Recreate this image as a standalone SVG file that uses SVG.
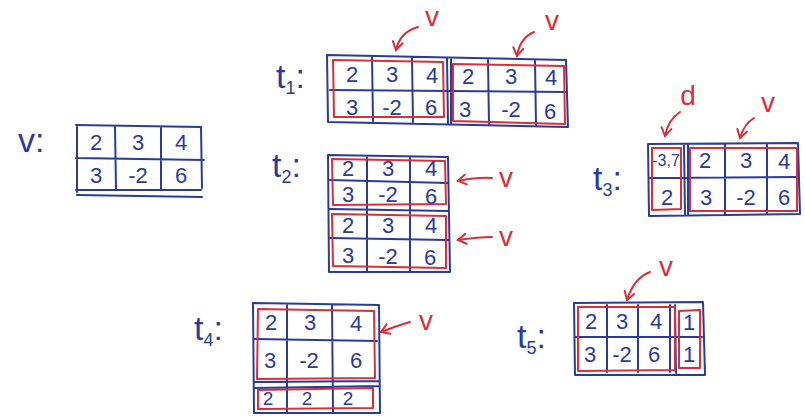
<svg xmlns="http://www.w3.org/2000/svg" width="805" height="416" viewBox="0 0 805 416">
<defs>
<style>
.b{fill:none;stroke:#2b3b9c;stroke-width:2;stroke-linecap:round;stroke-linejoin:round}
.r{fill:none;stroke:#d8303a;stroke-width:2;stroke-linecap:round;stroke-linejoin:round}
.n{font-family:"Liberation Sans",Arial,sans-serif;font-size:22px;fill:#2b3b9c;text-anchor:middle;dominant-baseline:central}
.s{font-size:16px}
.m{font-size:19px}
.lab{font-family:"Liberation Sans",Arial,sans-serif;font-size:34px;fill:#2b3b9c}
.sub{font-size:18px}
.rl{font-family:"Liberation Sans",Arial,sans-serif;font-size:28px;fill:#d8303a;text-anchor:middle}
</style>
<marker id="ah" markerWidth="12" markerHeight="12" refX="9" refY="6" orient="auto" markerUnits="userSpaceOnUse">
<path d="M1,1 L9,6 L1,11" fill="none" stroke="#d8303a" stroke-width="2" stroke-linecap="round"/>
</marker>
</defs>
<rect width="805" height="416" fill="#fff"/>

<g id="v">
<text class="lab" x="18" y="152">v:</text>
<path class="b" d="M76,125 L201,127 M77,125 L77,192 M201,127 L202,188 M76,158 L204,160 M76,190 L201,190 M77,195 L202,197 M115,126 L116,189 M161,127 L161,190"/>
<text class="n" x="96" y="142">2</text><text class="n" x="138" y="142">3</text><text class="n" x="181" y="142">4</text>
<text class="n" x="96" y="175">3</text><text class="n" x="138" y="175">-2</text><text class="n" x="181" y="175">6</text>
</g>

<g id="t1">
<text class="lab" x="276" y="88">t<tspan class="sub" dy="6">1</tspan><tspan dy="-6">:</tspan></text>
<path class="b" d="M327,55 L566,60 L568,127 L328,122 Z M330,90 L566,92 M372,57 L373,121 M412,58 L413,122 M447,58 L448,124 M451,58 L451,124 M488,59 L489,125 M535,60 L536,126"/>
<path class="r" d="M333,60 L443,62 L444,117 L334,117 Z M453,64 L564,66 L565,124 L453,121 Z"/>
<text class="n" x="352" y="74">2</text><text class="n" x="392" y="74">3</text><text class="n" x="432" y="75">4</text>
<text class="n" x="352" y="107">3</text><text class="n" x="392" y="107">-2</text><text class="n" x="431" y="107">6</text>
<text class="n" x="468" y="76">2</text><text class="n" x="511" y="76">3</text><text class="n" x="551" y="77">4</text>
<text class="n" x="465" y="109">3</text><text class="n" x="511" y="109">-2</text><text class="n" x="550" y="111">6</text>
</g>

<g id="t2">
<text class="lab" x="272" y="177">t<tspan class="sub" dy="6">2</tspan><tspan dy="-6">:</tspan></text>
<path class="b" d="M328,155 L448,157 L450,272 L329,272 Z M330,180 L447,183 M330,209 L448,211 M330,238 L448,240 M367,156 L367,272 M410,157 L410,271"/>
<path class="r" d="M332,159 L445,161 L446,204 L333,205 Z M332,214 L446,216 L446,268 L333,266 Z"/>
<text class="n" x="348" y="168">2</text><text class="n" x="388" y="168">3</text><text class="n" x="431" y="168">4</text>
<text class="n" x="348" y="194">3</text><text class="n" x="388" y="194">-2</text><text class="n" x="431" y="196">6</text>
<text class="n" x="348" y="225">2</text><text class="n" x="388" y="225">3</text><text class="n" x="431" y="225">4</text>
<text class="n" x="348" y="255">3</text><text class="n" x="388" y="256">-2</text><text class="n" x="430" y="257">6</text>
</g>

<g id="t3">
<text class="lab" x="593" y="190">t<tspan class="sub" dy="6">3</tspan><tspan dy="-6">:</tspan></text>
<path class="b" d="M648,144 L798,143 L800,214 L649,216 Z M650,178 L797,177 M684,145 L685,214 M688,145 L688,214 M725,144 L725,214 M767,144 L767,213"/>
<path class="r" d="M652,148 L681,148 L681,209 L652,210 Z M690,148 L797,148 L797,211 L690,211 Z"/>
<text class="n s" x="666" y="160">-3,7</text>
<text class="n" x="667" y="197">2</text>
<text class="n" x="705" y="160">2</text><text class="n" x="746" y="160">3</text><text class="n" x="784" y="161">4</text>
<text class="n" x="706" y="197">3</text><text class="n" x="746" y="197">-2</text><text class="n" x="784" y="197">6</text>
</g>

<g id="t4">
<text class="lab" x="194" y="340">t<tspan class="sub" dy="6">4</tspan><tspan dy="-6">:</tspan></text>
<path class="b" d="M253,303 L379,305 L380,413 L254,413 Z M255,339 L377,341 M255,382 L379,381 M255,388 L379,386 M287,304 L287,412 M332,305 L333,412"/>
<path class="r" d="M258,309 L374,311 L375,378 L257,379 Z M258,390 L373,388 L373,408 L258,409 Z"/>
<text class="n" x="271" y="322">2</text><text class="n" x="310" y="322">3</text><text class="n" x="356" y="323">4</text>
<text class="n" x="270" y="360">3</text><text class="n" x="309" y="360">-2</text><text class="n" x="356" y="360">6</text>
<text class="n m" x="268" y="398">2</text><text class="n m" x="307" y="398">2</text><text class="n m" x="348" y="398">2</text>
</g>

<g id="t5">
<text class="lab" x="517" y="348">t<tspan class="sub" dy="6">5</tspan><tspan dy="-6">:</tspan></text>
<path class="b" d="M574,303 L703,302 L705,375 L575,375 Z M576,337 L702,337 M607,305 L607,372 M638,305 L638,372 M670,305 L670,372 M675,305 L676,373"/>
<path class="r" d="M578,307 L675,307 L675,370 L578,371 Z M679,311 L700,310 L700,368 L679,368 Z"/>
<text class="n" x="591" y="321">2</text><text class="n" x="622" y="321">3</text><text class="n" x="656" y="321">4</text>
<text class="n" x="590" y="354">3</text><text class="n" x="622" y="354">-2</text><text class="n" x="654" y="354">6</text>
<text class="n" x="689" y="322">1</text><text class="n" x="689" y="354">1</text>
</g>

<g id="connectors">
<path class="r" d="M418,27 Q400,32 396,50" marker-end="url(#ah)"/>
<path class="r" d="M534,32 Q520,38 517,56" marker-end="url(#ah)"/>
<path class="r" d="M492,178 Q478,177 458,181" marker-end="url(#ah)"/>
<path class="r" d="M492,237 Q478,237 458,240" marker-end="url(#ah)"/>
<path class="r" d="M680,112 Q668,120 665,136" marker-end="url(#ah)"/>
<path class="r" d="M754,118 Q744,124 740,138" marker-end="url(#ah)"/>
<path class="r" d="M410,322 Q396,326 381,332" marker-end="url(#ah)"/>
<path class="r" d="M650,272 Q634,278 627,300" marker-end="url(#ah)"/>
</g>

<g id="labels">
<text class="rl" x="432" y="26">v</text>
<text class="rl" x="552" y="30">v</text>
<text class="rl" x="506" y="187">v</text>
<text class="rl" x="506" y="246">v</text>
<text class="rl" x="688" y="105">d</text>
<text class="rl" x="768" y="112">v</text>
<text class="rl" x="426" y="330">v</text>
<text class="rl" x="666" y="276">v</text>
</g>
</svg>
